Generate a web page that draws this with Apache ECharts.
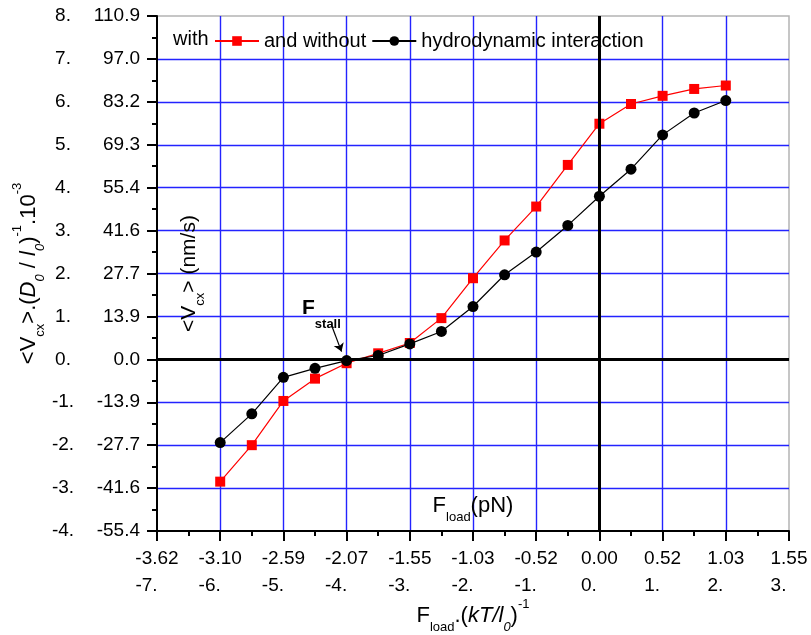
<!DOCTYPE html>
<html>
<head>
<meta charset="utf-8">
<script src="https://cdn.jsdelivr.net/npm/echarts@6/dist/echarts.min.js"></script>
<style>
  html, body { margin: 0; padding: 0; background: #fff; }
  #chart { width: 811px; height: 635px; }
</style>
</head>
<body>
<div id="chart"></div>
<script>
// load in units of kT/l0, velocity in units of D0/l0 * 1e-3
const loadValues = [-6, -5.5, -5, -4.5, -4, -3.5, -3, -2.5, -2, -1.5, -1, -0.5, 0, 0.5, 1, 1.5, 2];
const withHydro = [-2.85, -2.00, -0.97, -0.45, -0.09, 0.14, 0.38, 0.96, 1.89, 2.77, 3.56, 4.53, 5.49, 5.95, 6.14, 6.30, 6.38];
const withoutHydro = [-1.94, -1.27, -0.42, -0.21, -0.03, 0.09, 0.36, 0.65, 1.23, 1.97, 2.50, 3.12, 3.80, 4.43, 5.23, 5.74, 6.03];

const seriesNames = ["with hydrodynamic interaction", "without hydrodynamic interaction"];
const legendLabels = ["and without", "hydrodynamic interaction"];

const xTicksKT = ["-7.", "-6.", "-5.", "-4.", "-3.", "-2.", "-1.", "0.", "1.", "2.", "3."];
const xTicksPN = ["-3.62", "-3.10", "-2.59", "-2.07", "-1.55", "-1.03", "-0.52", "0.00", "0.52", "1.03", "1.55"];
const yTicksReduced = ["-4.", "-3.", "-2.", "-1.", "0.", "1.", "2.", "3.", "4.", "5.", "6.", "7.", "8."];
const yTicksNm = ["-55.4", "-41.6", "-27.7", "-13.9", "0.0", "13.9", "27.7", "41.6", "55.4", "69.3", "83.2", "97.0", "110.9"];

const X_MIN = -7, X_MAX = 3, Y_MIN = -4, Y_MAX = 8;
const FONT = 'Arial, "Liberation Sans", sans-serif';
const GRID_BLUE = "#2323ff";

function titleRich(size) {
  return {
    m: { fontSize: size, fontFamily: FONT, color: "#000", lineHeight: 36 },
    i: { fontSize: size, fontFamily: FONT, color: "#000", fontStyle: "italic", lineHeight: 36 },
    sub: { fontSize: 13, fontFamily: FONT, color: "#000", lineHeight: 16, verticalAlign: "bottom" },
    isub: { fontSize: 13, fontFamily: FONT, color: "#000", fontStyle: "italic", lineHeight: 16, verticalAlign: "bottom" },
    sup: { fontSize: 13, fontFamily: FONT, color: "#000", lineHeight: 26, verticalAlign: "top" }
  };
}

function baseAxis() {
  return {
    type: "value",
    nameMoveOverlap: false,
    axisLine: { show: true, onZero: false, lineStyle: { color: "#000", width: 2 } },
    axisTick: { show: true, inside: false, length: 10, lineStyle: { color: "#000", width: 2 } },
    minorTick: { show: true, splitNumber: 2, length: 5, lineStyle: { color: "#000", width: 2 } },
    splitLine: { show: false },
    axisLabel: { color: "#000", fontSize: 19, fontFamily: FONT }
  };
}

const chart = echarts.init(document.getElementById("chart"));

const xMain = Object.assign(baseAxis(), {
  min: X_MIN, max: X_MAX, interval: 1,
  position: "bottom",
  name: "{m|F}{sub|load}{m|(pN)}",
  nameLocation: "middle",
  nameGap: -43,
  nameTextStyle: { rich: titleRich(22) },
  splitLine: {
    show: true, showMinLine: false, showMaxLine: false,
    lineStyle: { color: GRID_BLUE, width: 1.4 }
  },
  axisLabel: {
    color: "#000", fontSize: 19, fontFamily: FONT, margin: 18,
    formatter: (v) => xTicksPN[Math.round(v - X_MIN)]
  }
});

const xSecond = Object.assign(baseAxis(), {
  min: X_MIN, max: X_MAX, interval: 1,
  position: "bottom",
  axisLine: { show: false, onZero: false },
  axisTick: { show: false },
  minorTick: { show: false },
  name: "{m|F}{sub|load}{m|.(}{i|kT/l}{isub|0}{m|)}{sup|-1}",
  nameLocation: "middle",
  nameGap: 67,
  nameTextStyle: { rich: titleRich(22) },
  axisLabel: {
    color: "#000", fontSize: 19, fontFamily: FONT, margin: 45,
    padding: [0, 21, 0, 0],
    formatter: (v) => xTicksKT[Math.round(v - X_MIN)]
  }
});

const yMain = Object.assign(baseAxis(), {
  min: Y_MIN, max: Y_MAX, interval: 1,
  position: "left",
  name: "{m|<V}{sub|cx}{m|>.(}{i|D}{isub|0}{m| / }{i|l}{isub|0}{m|)}{sup|-1}{m|.10}{sup|-3}",
  nameLocation: "middle",
  nameGap: 110,
  nameRotate: 90,
  nameTextStyle: { rich: titleRich(22) },
  splitLine: {
    show: true, showMinLine: false, showMaxLine: false,
    lineStyle: { color: GRID_BLUE, width: 1.4 }
  },
  axisLabel: {
    color: "#000", fontSize: 19, fontFamily: FONT, margin: 94, align: "center",
    formatter: (v) => yTicksReduced[Math.round(v - Y_MIN)]
  }
});

const ySecond = Object.assign(baseAxis(), {
  min: Y_MIN, max: Y_MAX, interval: 1,
  position: "left",
  axisLine: { show: false, onZero: false },
  axisTick: { show: false },
  minorTick: { show: false },
  name: "{m|<V}{sub|cx}{m|> (nm/s)}",
  nameLocation: "middle",
  nameGap: -50,
  nameRotate: 90,
  nameTextStyle: { rich: titleRich(21) },
  axisLabel: {
    color: "#000", fontSize: 19, fontFamily: FONT, margin: 17,
    formatter: (v) => yTicksNm[Math.round(v - Y_MIN)]
  }
});

chart.setOption({
  backgroundColor: "#fff",
  animation: false,
  textStyle: { fontFamily: FONT },
  grid: {
    left: 157, right: 22, top: 16, bottom: 104,
    outerBoundsMode: "none",
    containLabel: false,
    show: true, borderColor: "#b4b4b4", borderWidth: 1.5, backgroundColor: "transparent"
  },
  legend: {
    data: seriesNames,
    left: 214,
    top: 31,
    padding: 0,
    itemWidth: 44,
    itemHeight: 12,
    itemGap: 5,
    textStyle: { fontSize: 20, color: "#000", fontFamily: FONT },
    formatter: (name) => legendLabels[seriesNames.indexOf(name)]
  },
  graphic: [
    {
      type: "text",
      left: 173,
      top: 29,
      style: { text: "with", fontSize: 20, fontFamily: FONT, fill: "#000" }
    },
    {
      type: "text",
      left: 302,
      top: 298,
      style: {
        text: "{b|F}{s|stall}",
        rich: {
          b: { fontSize: 21, fontWeight: "bold", fontFamily: FONT, lineHeight: 44, fill: "#000" },
          s: { fontSize: 13, fontWeight: "bold", fontFamily: FONT, lineHeight: 16, verticalAlign: "bottom", fill: "#000" }
        }
      }
    }
  ],
  xAxis: [xMain, xSecond],
  yAxis: [yMain, ySecond],
  series: [
    {
      name: seriesNames[0],
      type: "line",
      data: loadValues.map((x, i) => [x, withHydro[i]]),
      symbol: "rect",
      symbolSize: 10,
      itemStyle: { color: "#ff0000" },
      lineStyle: { color: "#ff0000", width: 1.2 },
      z: 3,
      markLine: {
        silent: true,
        symbol: ["none", "none"],
        label: { show: false },
        lineStyle: { color: "#000", width: 3, type: "solid" },
        data: [{ xAxis: 0 }, { yAxis: 0 }]
      }
    },
    {
      name: seriesNames[1],
      type: "line",
      data: loadValues.map((x, i) => [x, withoutHydro[i]]),
      symbol: "circle",
      symbolSize: 11,
      itemStyle: { color: "#000" },
      lineStyle: { color: "#000", width: 1.2 },
      z: 4,
      markLine: {
        silent: true,
        symbol: ["none", "arrow"],
        symbolSize: 8,
        label: { show: false },
        lineStyle: { color: "#000", width: 1.2, type: "solid" },
        data: [[{ coord: [-4.24, 0.8] }, { coord: [-4.08, 0.18] }]]
      }
    }
  ]
});
</script>
</body>
</html>
